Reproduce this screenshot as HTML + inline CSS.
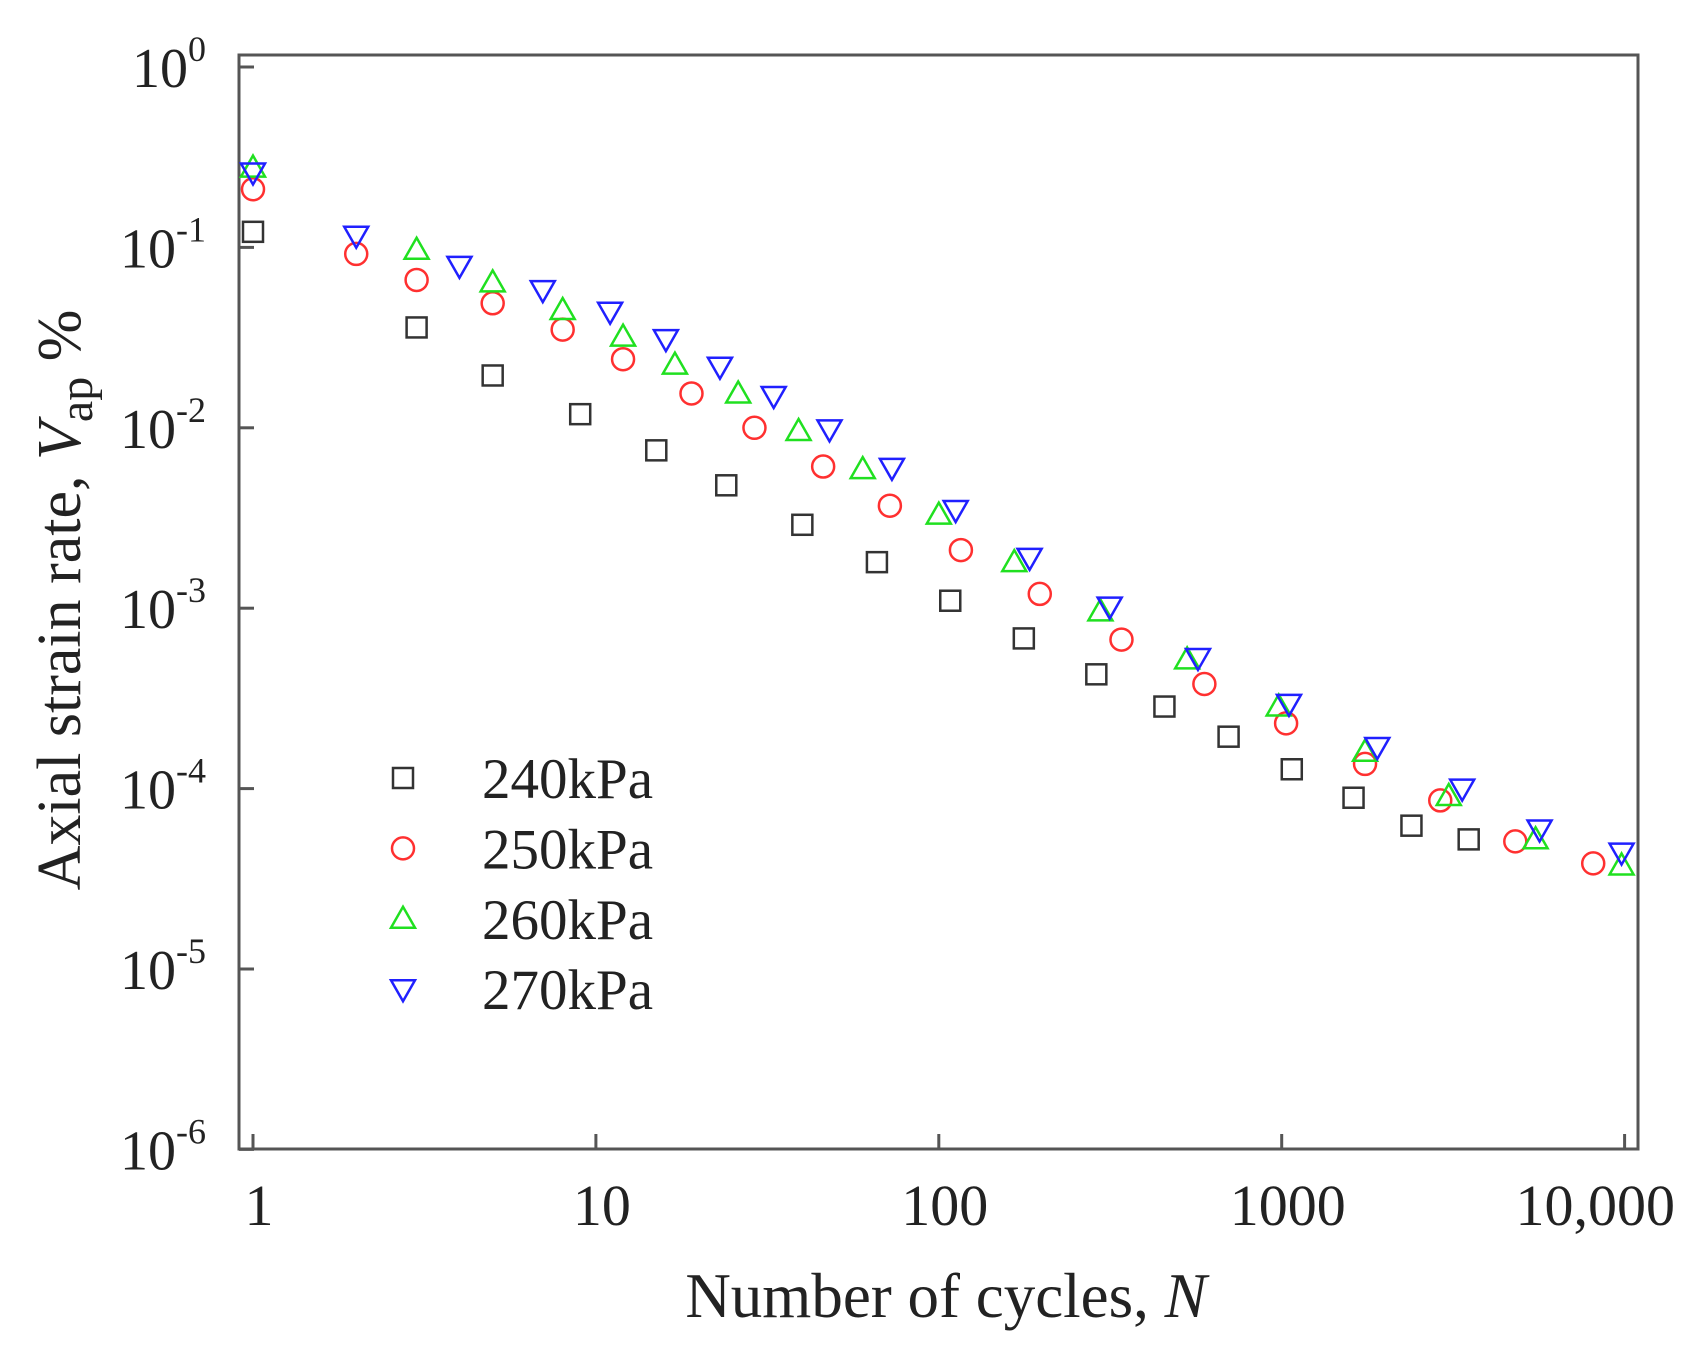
<!DOCTYPE html>
<html><head><meta charset="utf-8"><style>
html,body{margin:0;padding:0;background:#fff;}
svg{display:block;font-family:"Liberation Serif",serif;}
</style></head><body>
<svg id="chart" width="1697" height="1345" viewBox="0 0 1697 1345">
<g id="axes"></g><g id="marks"></g><g id="legend"></g>
<text x="946" y="1317" font-size="63" text-anchor="middle" fill="#222">Number of cycles, <tspan font-style="italic">N</tspan></text>
<text transform="translate(80,600) rotate(-90)" font-size="62" text-anchor="middle" fill="#222">Axial strain rate, <tspan font-style="italic">V</tspan><tspan font-size="48" dy="12">ap</tspan><tspan dy="-12"> %</tspan></text>
</svg>
<script>
const xTicks=[1,10,100,1000,10000];
const xTickLabels=["1","10","100","1000","10,000"];
const yTicks=[0,-1,-2,-3,-4,-5,-6];
const seriesNames=["240kPa","250kPa","260kPa","270kPa"];
const n240=[1,3,5,9,15,24,40,66,108,177,288,455,700,1070,1620,2390,3510];
const v240=[0.122,0.036,0.0195,0.0119,0.0075,0.0048,0.0029,0.0018,0.0011,0.00068,0.00043,0.000285,0.000194,0.000128,0.000089,0.0000623,0.0000523];
const n250=[1,2,3,5,8,12,19,29,46,72,116,197,341,595,1030,1750,2900,4800,8100];
const v250=[0.21,0.092,0.066,0.049,0.035,0.024,0.0155,0.01,0.0061,0.0037,0.0021,0.0012,0.00067,0.00038,0.00023,0.000137,0.000086,0.000051,0.0000385];
const n260=[1,3,5,8,12,17,26,39,60,100,166,296,530,980,1750,3070,5500,9800];
const v260=[0.277,0.097,0.064,0.045,0.032,0.0224,0.0155,0.0096,0.0059,0.0033,0.0018,0.00096,0.00052,0.000285,0.00016,0.000091,0.0000524,0.0000375];
const n270=[1,2,4,7,11,16,23,33,48,73,112,184,315,570,1050,1900,3360,5650,9800];
const v270=[0.26,0.116,0.079,0.058,0.044,0.031,0.0218,0.015,0.0098,0.006,0.0035,0.0019,0.00102,0.00053,0.000295,0.00017,0.0001,0.0000593,0.0000442];

const NS="http://www.w3.org/2000/svg";
const X0=253,XD=342.9,Y0=67,YD=180.4;
const FL=239,FT=55,FR=1638,FB=1149;
const xs=n=>X0+Math.log10(n)*XD;
const ys=v=>Y0-Math.log10(v)*YD;
function mk(tag,attrs,parent){const e=document.createElementNS(NS,tag);for(const k in attrs)e.setAttribute(k,attrs[k]);parent.appendChild(e);return e;}
const axes=document.getElementById('axes'),marks=document.getElementById('marks'),leg=document.getElementById('legend');
const frame=mk('rect',{x:FL,y:FT,width:FR-FL,height:FB-FT,fill:'none',stroke:'#555','stroke-width':3},axes);


xTicks.forEach((t,i)=>{
  const x=xs(t);
  const tk=mk('line',{x1:x,x2:x,y1:FB,y2:FB-15,stroke:'#555','stroke-width':3},axes);
  
  
  const last=i===xTicks.length-1;
  const lb=mk('text',{x:last?1675:x+6,y:1225,'font-size':58,'text-anchor':last?'end':'middle',fill:'#222'},axes);
  lb.textContent=xTickLabels[i];
  
  
});
yTicks.forEach(t=>{
  const y=Y0-t*YD;
  const tk=mk('line',{x1:FL,x2:FL+15,y1:y,y2:y,stroke:'#555','stroke-width':3},axes);
  
  
  const lb=mk('text',{x:206,y:y+20,'font-size':56,'text-anchor':'end',fill:'#222'},axes);
  lb.textContent='10';
  const s=mk('tspan',{'font-size':36,dy:-26},lb);s.textContent=String(t);
  
  
});
const colors=['#333','#ff3030','#20e020','#2020ff'];
function marker(kind,x,y,parent){
  const r=11;let e;
  if(kind===0)e=mk('rect',{x:x-r+1,y:y-r+1,width:2*r-2,height:2*r-2},parent);
  else if(kind===1)e=mk('circle',{cx:x,cy:y,r:r},parent);
  else if(kind===2)e=mk('polygon',{points:`${x},${y-r-1} ${x+r+1},${y+r-2} ${x-r-1},${y+r-2}`},parent);
  else e=mk('polygon',{points:`${x},${y+r+1} ${x+r+1},${y-r+2} ${x-r-1},${y-r+2}`},parent);
  e.setAttribute('fill','none');e.setAttribute('stroke',colors[kind]);e.setAttribute('stroke-width',2.5);
  return e;
}
[[n240,v240],[n250,v250],[n260,v260],[n270,v270]].forEach((s,k)=>{
  s[0].forEach((n,i)=>{
    const m=marker(k,xs(n),ys(s[1][i]),marks);
    
    
  });
});
seriesNames.forEach((nm,k)=>{
  const y=778+k*70.4;
  const m=marker(k,403,y,leg);
  
  
  const t=mk('text',{x:482,y:y+20,'font-size':57,fill:'#222'},leg);
  t.textContent=nm;
  
  
});
</script>
</body></html>
